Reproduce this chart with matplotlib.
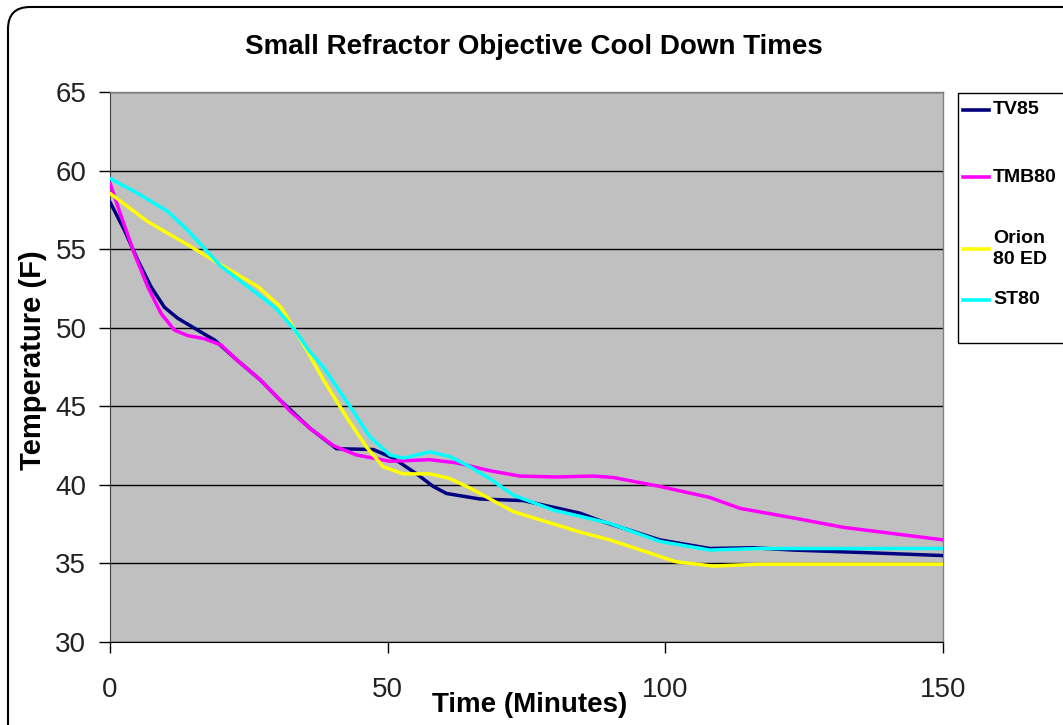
import matplotlib
matplotlib.use("Agg")
import matplotlib.pyplot as plt
from matplotlib.patches import FancyBboxPatch, Rectangle
from matplotlib.lines import Line2D

plt.rcParams['font.family'] = ['Liberation Sans', 'DejaVu Sans']

title = "Small Refractor Objective Cool Down Times"
xlabel = "Time (Minutes)"
ylabel = "Temperature (F)"
series_names = ["TV85", "TMB80", "Orion\n80 ED", "ST80"]
series_colors = ["#000080", "#FF00FF", "#FFFF00", "#00FFFF"]

tv85_x = [0, 2.6, 5.0, 7.4, 9.8, 12.2, 15.3, 18.9, 23.0, 27, 30.6, 36, 40.8, 47.4, 51.0, 55.2, 58.2, 60.6, 66.6, 74.4, 84.6, 88.8, 99, 108, 115.8, 123, 135, 150]
tv85_y = [58.0, 56.2, 54.3, 52.6, 51.3, 50.6, 49.95, 49.2, 47.9, 46.7, 45.4, 43.6, 42.3, 42.25, 41.7, 40.7, 39.9, 39.45, 39.1, 39.0, 38.2, 37.65, 36.5, 35.95, 36.0, 35.85, 35.7, 35.5]

tmb80_x = [0, 2.0, 4.4, 6.8, 9.2, 11.6, 14.0, 17.0, 20.0, 23.0, 27, 30.6, 32.4, 36, 40.2, 44.4, 50.4, 57.6, 62.4, 68.4, 73.8, 80.4, 87, 90.6, 99, 108, 113.5, 123, 132, 141, 150]
tmb80_y = [59.2, 57.1, 54.7, 52.6, 50.9, 49.85, 49.5, 49.3, 48.9, 47.9, 46.7, 45.4, 44.7, 43.6, 42.5, 41.9, 41.5, 41.6, 41.4, 40.9, 40.56, 40.5, 40.56, 40.47, 39.9, 39.2, 38.5, 37.9, 37.3, 36.9, 36.5]

orion_x = [0, 6.8, 14.6, 20.0, 26.7, 30.8, 33.3, 35.7, 38.4, 42.6, 46.2, 49.2, 52.8, 57.6, 61.2, 64.8, 72.6, 78.6, 84.6, 90, 102, 108.6, 117, 150]
orion_y = [58.55, 56.75, 55.15, 54.0, 52.6, 51.3, 49.85, 48.4, 46.7, 44.3, 42.4, 41.15, 40.7, 40.7, 40.4, 39.8, 38.3, 37.65, 37.0, 36.5, 35.1, 34.83, 34.95, 34.95]

st80_x = [0, 5.0, 10.4, 14.0, 17.0, 20.0, 24.9, 29.7, 33.3, 35.7, 38.4, 43.2, 46.8, 50.4, 52.8, 57.6, 61.2, 64.8, 68.4, 72.6, 79.8, 84.6, 90, 99, 108, 116.7, 150]
st80_y = [59.5, 58.55, 57.4, 56.2, 55.05, 53.9, 52.6, 51.3, 49.85, 48.6, 47.5, 45.0, 43.06, 41.9, 41.7, 42.1, 41.8, 41.15, 40.4, 39.35, 38.4, 38.0, 37.55, 36.4, 35.85, 35.95, 35.95]

xticks = [0, 50, 100, 150]
yticks = [30, 35, 40, 45, 50, 55, 60, 65]

W, H = 1063, 725
fig = plt.figure(figsize=(W / 100, H / 100), dpi=100)

# outer rounded border
border = FancyBboxPatch((8, -30), 1120, 725 - 7 + 30,
                        boxstyle="round,pad=0,rounding_size=22",
                        transform=None, facecolor="none", edgecolor="black",
                        linewidth=1.5, zorder=-10)
fig.patches.append(border)

ax = fig.add_axes([110 / W, 1 - 642 / H, (943 - 110) / W, (642 - 92) / H])
ax.set_facecolor("#C0C0C0")
xs = [tv85_x, tmb80_x, orion_x, st80_x]
ys = [tv85_y, tmb80_y, orion_y, st80_y]
for x, y, c in zip(xs, ys, series_colors):
    ax.plot(x, y, color=c, linewidth=2.5, solid_joinstyle="round",
            solid_capstyle="round", zorder=3)

ax.set_xlim(0, 150)
ax.set_ylim(30, 65)
ax.set_xticks(xticks)
ax.set_yticks(yticks)
ax.yaxis.grid(True, color="black", linewidth=1.0)
ax.set_axisbelow(True)
for s in ["top", "right"]:
    ax.spines[s].set_color("#808080")
    ax.spines[s].set_linewidth(1.0)
ax.spines["left"].set_color("#404040")
ax.spines["bottom"].set_color("black")
ax.tick_params(axis="both", direction="out", length=8, width=1, labelsize=20,
               colors="black", labelcolor="#222222")
ax.tick_params(axis="y", pad=9)
ax.tick_params(axis="x", pad=17)

fig.text(534 / W, 1 - 47 / H, title, ha="center", va="center",
         fontsize=20, fontweight="bold")
fig.text(530 / W, 1 - 705 / H, xlabel, ha="center", va="center",
         fontsize=20, fontweight="bold")
fig.text(33 / W, 1 - 360 / H, ylabel, ha="center", va="center",
         fontsize=21, fontweight="bold", rotation=90)

# legend box
leg = Rectangle((958, H - 343), 200, 343 - 93, transform=None,
                facecolor="white", edgecolor="black", linewidth=1.0, zorder=5)
fig.patches.append(leg)
leg_y = [110, 177, 249, 300]
for name, c, yy in zip(series_names, series_colors, leg_y):
    fig.add_artist(Line2D([963, 989], [H - yy, H - yy], transform=None,
                          color=c, linewidth=2.6, zorder=6))
    fig.text(993 / W, 1 - yy / H, name, ha="left", va="center", fontsize=14,
             fontweight="bold", zorder=7, linespacing=1.25)

fig.savefig("out.png", dpi=100)
